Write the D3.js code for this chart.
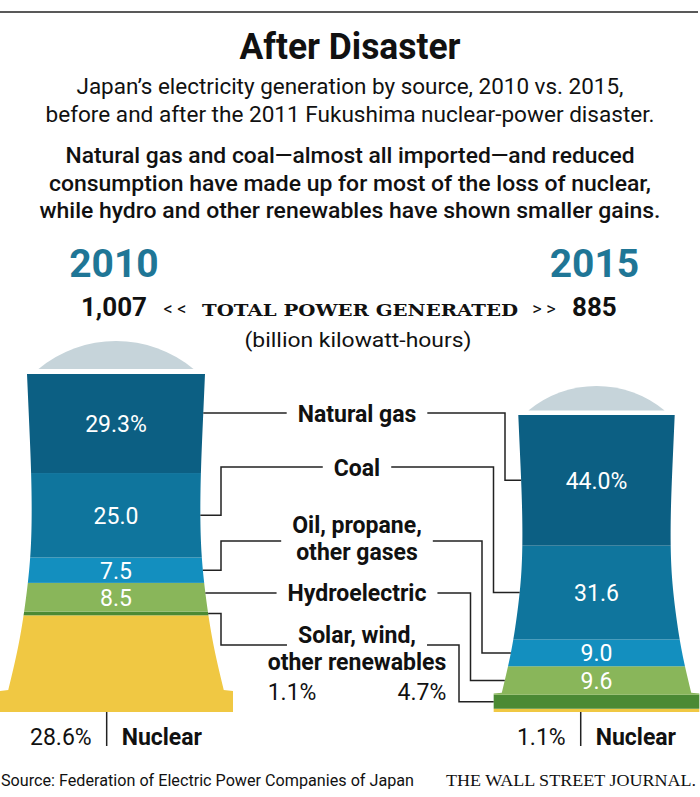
<!DOCTYPE html>
<html>
<head>
<meta charset="utf-8">
<script src="https://cdn.jsdelivr.net/npm/d3@7"></script>
<style>
  body { margin: 0; background: #fff; }
  svg text { font-family: Roboto, "Noto Sans", sans-serif; fill: #111; }
</style>
</head>
<body>
<div id="chart"></div>
<script>
//chart data, shares in percent of each year's total
var years = ["2010", "2015"];
var totals = [1007, 885]; //billion kilowatt-hours
var sourceKeys = ["nuclear", "solar", "hydro", "oil", "coal", "gas"];
var shares2010 = [28.6, 1.1, 8.5, 7.5, 25.0, 29.3];
var shares2015 = [1.1, 4.7, 9.6, 9.0, 31.6, 44.0];
var sourceNames = [["Nuclear"], ["Solar, wind,", "other renewables"], ["Hydroelectric"],
  ["Oil, propane,", "other gases"], ["Coal"], ["Natural gas"]];
var sourceColors = ["#f0c843", "#4b8a34", "#89b65a", "#138fbf", "#0f759d", "#0c5f83"];

var shares = [shares2010, shares2015];

//build the table for d3.stack (values in billion kWh)
var table = years.map(function(yr, i) {
  var row = {year: yr, total: totals[i]};
  sourceKeys.forEach(function(k, j) { row[k] = shares[i][j] * totals[i] / 100; });
  return row;
});
var series = d3.stack().keys(sourceKeys)(table);

var W = 700, H = 797;
var baseY = 712;
var maxTotal = d3.max(totals);

var svg = d3.select("#chart").append("svg")
  .attr("width", W)
  .attr("height", H);

var y = d3.scaleLinear().domain([0, maxTotal]).range([baseY, baseY - 338]);
var x = d3.scalePoint().domain(years).range([116, 596.5]);

//tower profile (half widths at full scale)
var H0 = baseY - y(maxTotal);
var stepH = 21, stepHW = 117;
var bodyCurve = d3.interpolateBasis([108, 97, 90, 85, 84, 85, 87, 89]);
function halfWidth(h) {
  if (h <= stepH) return stepHW;
  return bodyCurve(Math.min(1, (h - stepH) / (H0 - stepH)));
}
function scaleOf(i) { return totals[i] / maxTotal; }
function edgeX(i, yy, side) {
  var k = scaleOf(i);
  return x(years[i]) + side * halfWidth((baseY - yy) / k) * k;
}

//top rule
svg.append("line")
  .attr("x1", 0).attr("x2", 698)
  .attr("y1", 12).attr("y2", 12)
  .attr("stroke", "#222").attr("stroke-width", 1.5);

//headline block
svg.append("text")
  .attr("x", 350).attr("y", 59)
  .attr("text-anchor", "middle")
  .attr("font-size", 36).attr("font-weight", 700)
  .attr("textLength", 221).attr("lengthAdjust", "spacingAndGlyphs")
  .text("After Disaster");

var subLines = ["Japan\u2019s electricity generation by source, 2010 vs. 2015,",
  "before and after the 2011 Fukushima nuclear-power disaster."];
var subWidths = [547, 609];
svg.selectAll(".sub").data(subLines).enter().append("text")
  .attr("class", "sub")
  .attr("x", 350).attr("y", function(d, i) { return 94 + i * 28; })
  .attr("text-anchor", "middle")
  .attr("font-size", 22)
  .attr("textLength", function(d, i) { return subWidths[i]; })
  .attr("lengthAdjust", "spacingAndGlyphs")
  .text(function(d) { return d; });

var deckLines = ["Natural gas and coal\u2014almost all imported\u2014and reduced",
  "consumption have made up for most of the loss of nuclear,",
  "while hydro and other renewables have shown smaller gains."];
var deckWidths = [569, 602, 621];
svg.selectAll(".deck").data(deckLines).enter().append("text")
  .attr("class", "deck")
  .attr("x", 350).attr("y", function(d, i) { return 163 + i * 27.5; })
  .attr("text-anchor", "middle")
  .attr("font-size", 22).attr("font-weight", 500)
  .attr("textLength", function(d, i) { return deckWidths[i]; })
  .attr("lengthAdjust", "spacingAndGlyphs")
  .text(function(d) { return d; });

//year headers
svg.selectAll(".year").data(years).enter().append("text")
  .attr("class", "year")
  .attr("x", function(d) { return x(d) - 2; })
  .attr("y", 277)
  .attr("text-anchor", "middle")
  .attr("font-size", 39).attr("font-weight", 700)
  .style("fill", "#1f7696")
  .text(function(d) { return d; });

//totals row
svg.append("text")
  .attr("x", 147).attr("y", 316)
  .attr("text-anchor", "end")
  .attr("font-size", 26).attr("font-weight", 700)
  .text(d3.format(",")(totals[0]));
svg.append("text")
  .attr("x", 572).attr("y", 316)
  .attr("font-size", 26).attr("font-weight", 700)
  .text(d3.format(",")(totals[1]));
svg.append("text")
  .attr("x", 175).attr("y", 315)
  .attr("text-anchor", "middle")
  .attr("font-size", 18)
  .text("< <");
svg.append("text")
  .attr("x", 544).attr("y", 315)
  .attr("text-anchor", "middle")
  .attr("font-size", 18)
  .text("> >");
svg.append("text")
  .attr("x", 360).attr("y", 316)
  .attr("text-anchor", "middle")
  .style("font-family", "'DejaVu Serif', serif")
  .attr("font-size", 17).attr("font-weight", 700)
  .attr("textLength", 316).attr("lengthAdjust", "spacingAndGlyphs")
  .text("TOTAL POWER GENERATED");
svg.append("text")
  .attr("x", 358).attr("y", 347)
  .attr("text-anchor", "middle")
  .attr("font-size", 20)
  .attr("textLength", 227).attr("lengthAdjust", "spacingAndGlyphs")
  .text("(billion kilowatt-hours)");

//towers
var line = d3.line();
years.forEach(function(yr, i) {
  var cx = x(yr), k = scaleOf(i);

  //outline of the cooling tower
  var left = [[cx - stepHW * k, baseY], [cx - stepHW * k, baseY - stepH * k]];
  for (var h = stepH; h <= H0; h += 1) {
    left.push([cx - halfWidth(h) * k, baseY - h * k]);
  }
  var right = left.map(function(p) { return [2 * cx - p[0], p[1]]; }).reverse();
  var outline = left.concat(right);

  svg.append("clipPath").attr("id", "clip-" + yr)
    .append("path").attr("d", line(outline) + "Z");

  var g = svg.append("g").attr("clip-path", "url(#clip-" + yr + ")");
  g.selectAll("rect").data(series).enter().append("rect")
    .attr("x", cx - 130)
    .attr("width", 260)
    .attr("y", function(s) { return y(s[i][1]); })
    .attr("height", function(s) { return y(s[i][0]) - y(s[i][1]); })
    .attr("fill", function(s, j) { return sourceColors[j]; });

  //dome of steam above the tower
  var c = 77.5 * k, sag = 28 * k;
  var bottom = baseY - H0 * k - 5 * k;
  var R = (c * c + sag * sag) / (2 * sag);
  svg.append("path")
    .attr("d", "M" + (cx - c) + "," + bottom + "A" + R + "," + R + " 0 0 1 " + (cx + c) + "," + bottom + "Z")
    .attr("fill", "#c6d4da");

  //values inside the layers
  svg.selectAll(".val-" + yr).data(series.slice(2)).enter().append("text")
    .attr("class", "val-" + yr)
    .attr("x", cx)
    .attr("y", function(s) { return (y(s[i][0]) + y(s[i][1])) / 2 + 8.5; })
    .attr("text-anchor", "middle")
    .attr("font-size", 23)
    .style("fill", "#fff")
    .text(function(s) {
      var v = d3.format(".1f")(shares[i][sourceKeys.indexOf(s.key)]);
      return s.key === "gas" ? v + "%" : v;
    });

  //nuclear label under the tower
  var pct = svg.append("text")
    .attr("y", 745).attr("font-size", 23)
    .text(d3.format(".1f")(shares[i][0]) + "%");
  var nuc = svg.append("text")
    .attr("y", 745).attr("font-size", 23).attr("font-weight", 700)
    .text(sourceNames[0][0]);
  var wp = pct.node().getComputedTextLength();
  var wn = nuc.node().getComputedTextLength();
  var gx = cx - (wp + 30 + wn) / 2;
  pct.attr("x", gx);
  nuc.attr("x", gx + wp + 30);
  svg.append("line")
    .attr("x1", gx + wp + 15).attr("x2", gx + wp + 15)
    .attr("y1", baseY).attr("y2", 746)
    .attr("stroke", "#222").attr("stroke-width", 1.5);
});

//source labels between the towers, top to bottom
var labelX = 357;
var rowLayout = [{line: 413, base: 422}, {line: 467, base: 476}, {line: 541, base: 533},
  {line: 593, base: 601}, {line: 645, base: 643}];
var rowSources = [5, 4, 3, 2, 1];

rowSources.forEach(function(j, r) {
  var lay = rowLayout[r];
  var texts = sourceNames[j].map(function(t, n) {
    return svg.append("text")
      .attr("x", labelX).attr("y", lay.base + n * 27)
      .attr("text-anchor", "middle")
      .attr("font-size", 23).attr("font-weight", 700)
      .text(t);
  });
  var w = texts[0].node().getComputedTextLength();
  var leftEnd = labelX - w / 2 - 11;
  var rightStart = labelX + w / 2 + 11;

  //connector to the 2010 tower
  var s = series[j];
  var top0 = y(s[0][1]), bot0 = y(s[0][0]), mid0 = (top0 + bot0) / 2;
  var pts;
  if (lay.line >= top0 && lay.line <= bot0) {
    pts = [[edgeX(0, lay.line, 1), lay.line], [leftEnd, lay.line]];
  } else {
    pts = [[edgeX(0, mid0, 1), mid0], [221, mid0], [221, lay.line], [leftEnd, lay.line]];
  }
  svg.append("path").attr("d", line(pts))
    .attr("fill", "none").attr("stroke", "#222").attr("stroke-width", 1.5);

  //connector to the 2015 tower
  var top1 = y(s[1][1]), bot1 = y(s[1][0]), mid1 = (top1 + bot1) / 2;
  var elbow = 505 - r * 11.5;
  if (lay.line >= top1 && lay.line <= bot1) {
    pts = [[rightStart, lay.line], [edgeX(1, lay.line, -1), lay.line]];
  } else {
    pts = [[rightStart, lay.line], [elbow, lay.line], [elbow, mid1], [edgeX(1, mid1, -1), mid1]];
  }
  svg.append("path").attr("d", line(pts))
    .attr("fill", "none").attr("stroke", "#222").attr("stroke-width", 1.5);

  //solar shares sit under its two-line label
  if (j === 1) {
    var w2 = texts[1].node().getComputedTextLength();
    svg.append("text")
      .attr("x", labelX - w2 / 2).attr("y", lay.base + 57)
      .attr("font-size", 23)
      .text(d3.format(".1f")(shares[0][1]) + "%");
    svg.append("text")
      .attr("x", labelX + w2 / 2).attr("y", lay.base + 57)
      .attr("text-anchor", "end")
      .attr("font-size", 23)
      .text(d3.format(".1f")(shares[1][1]) + "%");
  }
});

//footer
svg.append("text")
  .attr("x", 1).attr("y", 786)
  .attr("font-size", 17)
  .attr("textLength", 413).attr("lengthAdjust", "spacingAndGlyphs")
  .text("Source: Federation of Electric Power Companies of Japan");
svg.append("text")
  .attr("x", 446).attr("y", 786)
  .style("font-family", "'Liberation Serif', 'DejaVu Serif', serif")
  .attr("font-size", 17.5)
  .attr("textLength", 250).attr("lengthAdjust", "spacingAndGlyphs")
  .text("THE WALL STREET JOURNAL.");
</script>
</body>
</html>
